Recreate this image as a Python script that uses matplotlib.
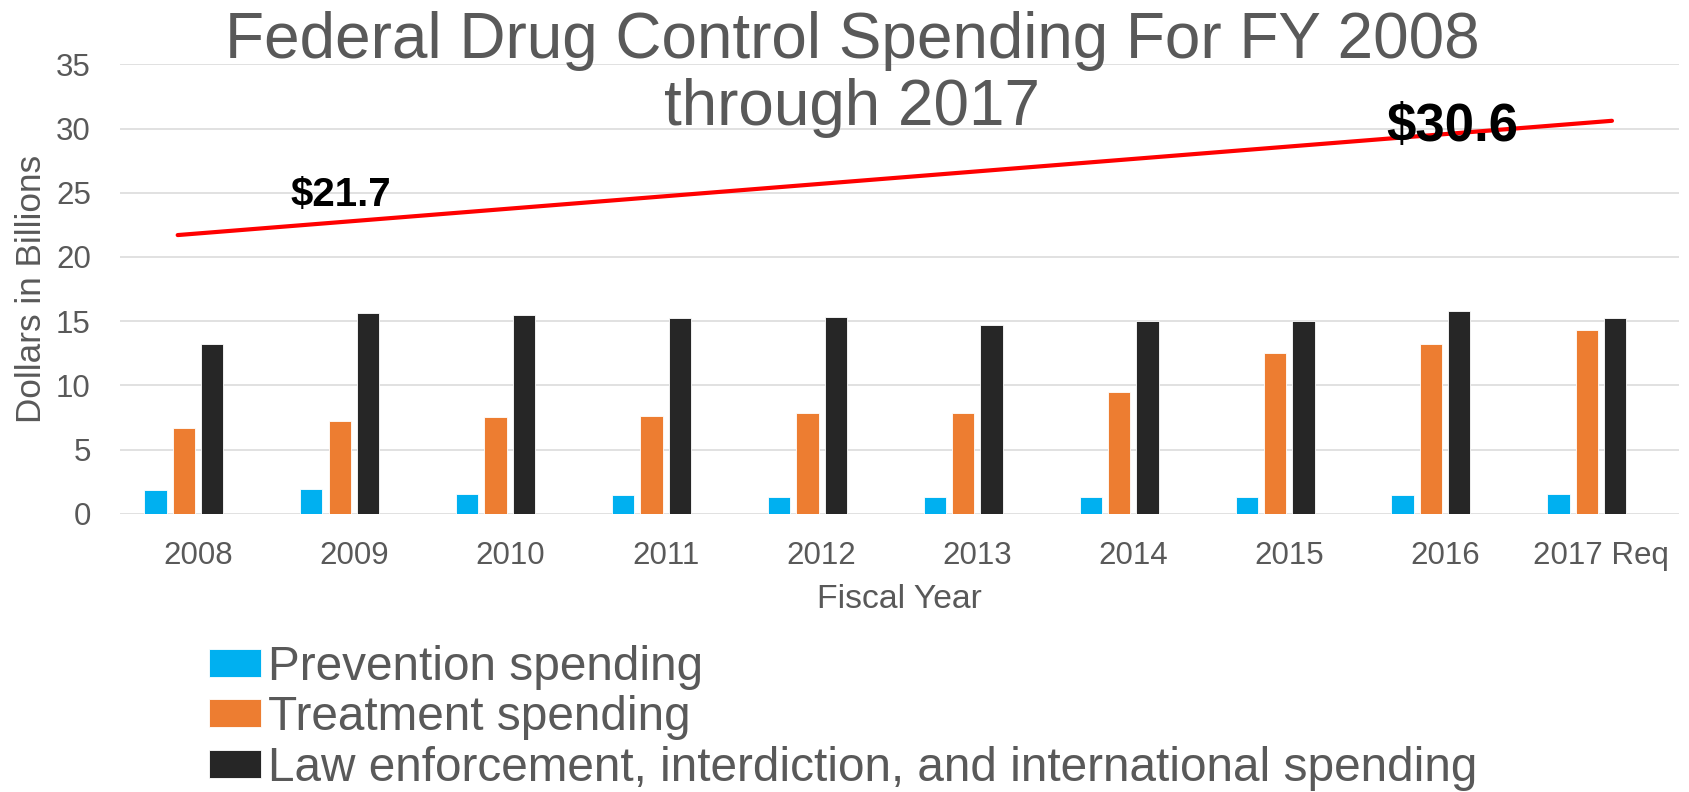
import matplotlib
matplotlib.use("Agg")
import matplotlib.pyplot as plt
import numpy as np

# Federal drug control spending, billions of dollars
years = ["2008", "2009", "2010", "2011", "2012", "2013", "2014", "2015", "2016", "2017 Req"]
prevention = [1.83, 1.93, 1.56, 1.48, 1.33, 1.27, 1.33, 1.32, 1.48, 1.53]
treatment = [6.68, 7.22, 7.51, 7.64, 7.85, 7.88, 9.49, 12.55, 13.25, 14.29]
enforcement = [13.23, 15.65, 15.46, 15.21, 15.31, 14.66, 14.97, 14.99, 15.82, 15.22]
series_names = ["Prevention spending", "Treatment spending",
                "Law enforcement, interdiction, and international spending"]
series_colors = ["#00B0F0", "#ED7D31", "#262626"]
total_labels = ["$21.7", "$30.6"]
total_values = [21.7, 30.6]

plt.rcParams["font.family"] = ["Liberation Sans", "DejaVu Sans"]
GREY = "#595959"

fig = plt.figure(figsize=(16.89, 7.92), dpi=100)
ax = fig.add_axes([120 / 1689, 1 - 513.7 / 792, 1559 / 1689, (513.7 - 64.3) / 792])

x = np.arange(len(years))
slot = 0.182
width = 0.143
for i, (vals, name, col) in enumerate(zip([prevention, treatment, enforcement],
                                          series_names, series_colors)):
    ax.bar(x + (i - 1.5) * slot, vals, width=width, color=col, label=name,
           edgecolor="white", linewidth=0.6, zorder=3)

# overall trend between first and last fiscal year totals
trend_x = [x[0] - 0.13, x[-1] + 0.07]
ax.plot(trend_x, total_values, color="#FF0000", lw=3, solid_capstyle="round", zorder=4)
ax.text(0.914, 24.0, total_labels[0], ha="center", va="baseline",
        fontsize=29, fontweight="bold", color="black", zorder=5)
ax.text(8.047, 29.03, total_labels[1], ha="center", va="baseline",
        fontsize=38, fontweight="bold", color="black", zorder=5)

ax.set_xlim(-0.5, len(years) - 0.5)
ax.set_ylim(0, 35)
ax.set_yticks(range(0, 36, 5))
ax.set_xticks(x)
ax.set_xticklabels(years)
for s in ax.spines.values():
    s.set_visible(False)
ax.yaxis.grid(True, color="#D9D9D9", lw=1.1, zorder=0)
ax.set_axisbelow(True)
ax.tick_params(axis="both", length=0, labelcolor=GREY, labelsize=22.5)
ax.tick_params(axis="x", pad=19.5)
ax.tick_params(axis="y", pad=21)

ax.set_xlabel("Fiscal Year", fontsize=24.3, color=GREY, labelpad=9.5)
ax.set_ylabel("Dollars in Billions", fontsize=25.3, color=GREY, labelpad=5.5)

fig.text(852 / 1689, 1 - 58 / 792, "Federal Drug Control Spending For FY 2008",
         ha="center", va="baseline", fontsize=46, color=GREY)
fig.text(852 / 1689, 1 - 125 / 792, "through 2017",
         ha="center", va="baseline", fontsize=46, color=GREY)

leg = fig.legend(loc="upper left", bbox_to_anchor=(209 / 1689, 1 - 645 / 792),
                 frameon=False, fontsize=34.4, handlelength=1.09, handleheight=0.52,
                 handletextpad=0.14, labelspacing=0.11, borderpad=0, borderaxespad=0)
for t in leg.get_texts():
    t.set_color(GREY)

fig.savefig("out.png", dpi=100)
